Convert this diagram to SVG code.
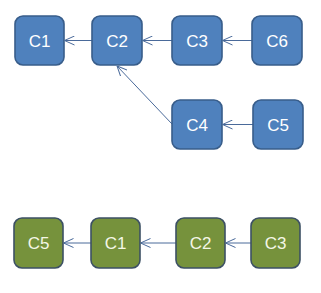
<svg xmlns="http://www.w3.org/2000/svg" width="321" height="293" viewBox="0 0 321 293">
<defs>
<style>
.b rect{fill:#4F81BD;stroke:#385D8A;stroke-width:1.6}
.g rect{fill:#76923C;stroke:#3C5064;stroke-width:1.6}
text{font-family:"Liberation Sans",Arial,sans-serif;font-size:17px;text-anchor:middle;dominant-baseline:central}
.b text{fill:#FFFFFF}
.g text{fill:#F4F7E6}
.c line{stroke:#4A6A9A;stroke-width:1;marker-end:url(#a)}
</style>
<marker id="a" viewBox="0 0 10 10" refX="10" refY="5" markerWidth="10" markerHeight="10" markerUnits="userSpaceOnUse" orient="auto">
<path d="M0,0.5 L10,5 L0,9.5" fill="none" stroke="#4A6A9A" stroke-width="1"/>
</marker>
</defs>
<rect width="321" height="293" fill="#FFFFFF"/>
<g class="c">
<line x1="92" y1="40.5" x2="64.5" y2="40.5"/>
<line x1="172" y1="40.5" x2="142.5" y2="40.5"/>
<line x1="252" y1="40.5" x2="222.5" y2="40.5"/>
<line x1="253" y1="124.5" x2="222.5" y2="124.5"/>
<line x1="172" y1="124" x2="117" y2="66"/>
<line x1="91" y1="243" x2="63.5" y2="243"/>
<line x1="176" y1="243" x2="140.5" y2="243"/>
<line x1="251" y1="243" x2="225.5" y2="243"/>
</g>
<g id="t-c1" class="b"><rect x="15" y="16" width="49" height="49" rx="8"/><text x="39.5" y="41">C1</text></g>
<g id="t-c2" class="b"><rect x="92" y="16" width="50" height="49" rx="8"/><text x="117" y="41">C2</text></g>
<g id="t-c3" class="b"><rect x="172" y="16" width="50" height="49" rx="8"/><text x="197" y="41">C3</text></g>
<g id="t-c6" class="b"><rect x="252" y="16" width="50" height="49" rx="8"/><text x="277" y="41">C6</text></g>
<g id="t-c4" class="b"><rect x="172" y="100" width="50" height="49" rx="8"/><text x="197" y="125">C4</text></g>
<g id="t-c5" class="b"><rect x="253" y="100" width="50" height="49" rx="8"/><text x="278" y="125">C5</text></g>
<g id="b-c5" class="g"><rect x="14" y="218" width="49" height="50" rx="8"/><text x="38.5" y="243.5">C5</text></g>
<g id="b-c1" class="g"><rect x="91" y="218" width="49" height="50" rx="8"/><text x="115.5" y="243.5">C1</text></g>
<g id="b-c2" class="g"><rect x="176" y="218" width="49" height="50" rx="8"/><text x="200.5" y="243.5">C2</text></g>
<g id="b-c3" class="g"><rect x="251" y="218" width="49" height="50" rx="8"/><text x="275.5" y="243.5">C3</text></g>
</svg>
